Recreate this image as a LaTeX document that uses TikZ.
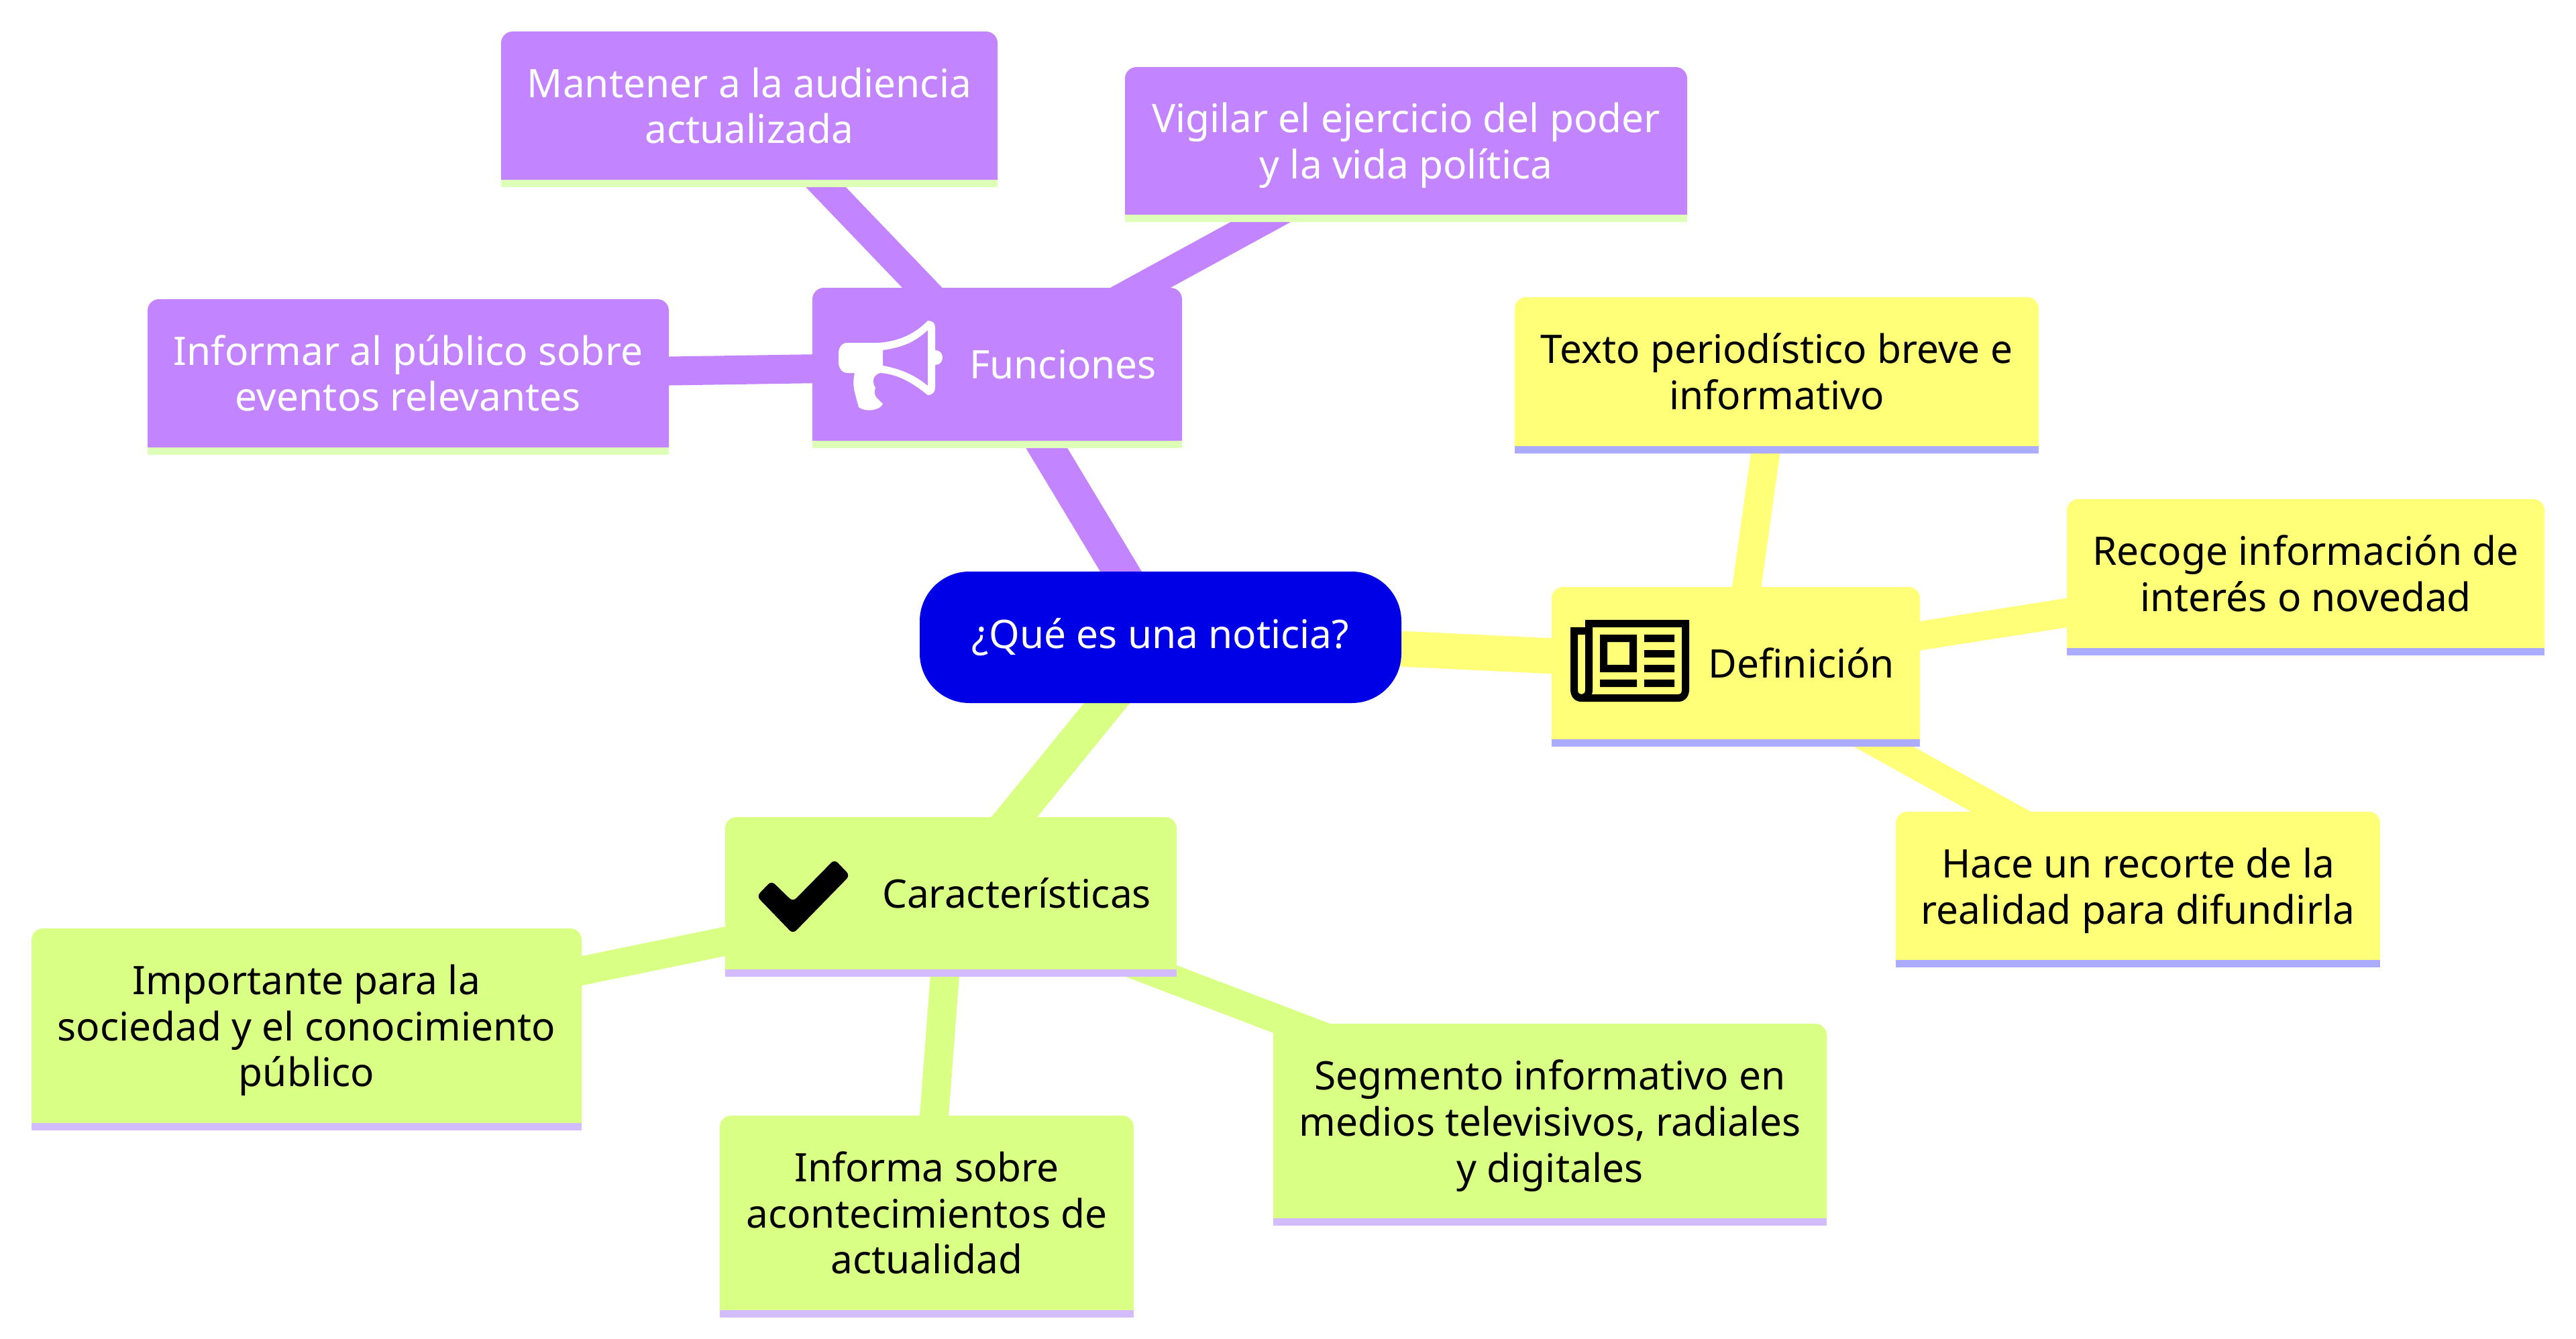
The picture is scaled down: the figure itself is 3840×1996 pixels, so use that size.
\documentclass[tikz,border=0pt]{standalone}
\usepackage{fontspec}
\setmainfont{Noto Sans}
\usetikzlibrary{calc}
\definecolor{pur}{HTML}{C285FF}
\definecolor{yel}{HTML}{FFFF78}
\definecolor{grn}{HTML}{D9FF85}
\definecolor{blu}{HTML}{0000E6}
\definecolor{spur}{HTML}{DEFFB8}
\definecolor{syel}{HTML}{ABABFF}
\definecolor{sgrn}{HTML}{D2BBFF}
\pgfdeclarelayer{conn}\pgfdeclarelayer{box}
\pgfsetlayers{conn,box,main}
\tikzset{
  lbl/.style={inner sep=0pt,outer sep=0pt,align=center,font=\fontsize{29.3pt}{34.3pt}\selectfont},
  lvlone/.style={line width=26.5pt},
  lvltwo/.style={line width=21.5pt},
}
% name, x0,y0,x1,y1 (top part without strip), fill, strip, text colour, text
\newcommand\mmbox[9]{%
  \pgfmathsetmacro\bw{(#4-#2)/2}\pgfmathsetmacro\bh{(#5-#3)/2}%
  \node[lbl,text=#8,minimum width=\bw pt,minimum height=\bh pt] (#1) at ({(#2+#4)/2},{(#3+#5)/2}) {#9};
  \begin{pgfonlayer}{box}
    \fill[#6] (#1.south west) [rounded corners=8.5pt] -- (#1.north west) -- (#1.north east) [sharp corners] -- (#1.south east) -- cycle;
    \fill[#7] (#1.south west) rectangle ([yshift=-5.5pt]#1.south east);
  \end{pgfonlayer}
}
\newcommand\iconsp{\hspace*{98pt}}
\newcommand\nd[1]{\raisebox{0pt}[\height][0pt]{#1}}
\begin{document}
\begin{tikzpicture}[x=0.5pt,y=-0.5pt]
\useasboundingbox (0,0) rectangle (3840,1996);
\node[lbl,text=white,fill=blu,rounded corners=37pt,minimum width=359pt,minimum height=98pt] (root) at (1730,950) {¿Qué es una noticia?};
% Funciones
\mmbox{fun}{1211}{429}{1762}{657}{pur}{spur}{white}{\iconsp Funciones}
\mmbox{fa}{747}{47}{1487}{268}{pur}{spur}{white}{Mantener a la audiencia\\actualizada}
\mmbox{fb}{1677}{100}{2515}{320}{pur}{spur}{white}{Vigilar el ejercicio del poder\\\nd{y la vida política}}
\mmbox{fc}{220}{446}{997}{667}{pur}{spur}{white}{Informar al público sobre\\eventos relevantes}
% Definicion
\mmbox{def}{2313}{875}{2862}{1102}{yel}{syel}{black}{\iconsp Definición}
\mmbox{da}{2258}{443}{3039}{665}{yel}{syel}{black}{Texto periodístico breve e\\informativo}
\mmbox{db}{3081}{744}{3793}{966}{yel}{syel}{black}{Recoge información de\\interés o novedad}
\mmbox{dc}{2826}{1210}{3548}{1431}{yel}{syel}{black}{Hace un recorte de la\\\nd{realidad para difundirla}}
% Caracteristicas
\mmbox{car}{1081}{1218}{1754}{1445}{grn}{sgrn}{black}{\iconsp Características}
\mmbox{ca}{47}{1384}{867}{1674}{grn}{sgrn}{black}{Importante para la\\sociedad y el conocimiento\\\nd{público}}
\mmbox{cb}{1073}{1663}{1690}{1953}{grn}{sgrn}{black}{Informa sobre\\acontecimientos de\\actualidad}
\mmbox{cc}{1898}{1526}{2723}{1816}{grn}{sgrn}{black}{Segmento informativo en\\medios televisivos, radiales\\\nd{y digitales}}
% connectors
\begin{pgfonlayer}{conn}
\draw[pur,lvlone] (root.center) -- ([yshift=-1.25pt]fun.center);
\draw[yel,lvlone] (root.center) -- ([yshift=-1.25pt]def.center);
\draw[grn,lvlone] (root.center) -- ([yshift=-1.25pt]car.center);
\draw[pur,lvltwo] ([yshift=-1.25pt]fun.center) -- ([yshift=-1.25pt]fa.center);
\draw[pur,lvltwo] ([yshift=-1.25pt]fun.center) -- ([yshift=-1.25pt]fb.center);
\draw[pur,lvltwo] ([yshift=-1.25pt]fun.center) -- ([yshift=-1.25pt]fc.center);
\draw[yel,lvltwo] ([yshift=-1.25pt]def.center) -- ([yshift=-1.25pt]da.center);
\draw[yel,lvltwo] ([yshift=-1.25pt]def.center) -- ([yshift=-1.25pt]db.center);
\draw[yel,lvltwo] ([yshift=-1.25pt]def.center) -- ([yshift=-1.25pt]dc.center);
\draw[grn,lvltwo] ([yshift=-1.25pt]car.center) -- ([yshift=-1.25pt]ca.center);
\draw[grn,lvltwo] ([yshift=-1.25pt]car.center) -- ([yshift=-1.25pt]cb.center);
\draw[grn,lvltwo] ([yshift=-1.25pt]car.center) -- ([yshift=-1.25pt]cc.center);
\end{pgfonlayer}
% megaphone icon
\fill[white,even odd rule]
  (1263,511) -- (1307,511) .. controls (1335,510) and (1362,500) .. (1383,478)
  .. controls (1390,478) and (1394,482) .. (1394,488) -- (1394,522)
  .. controls (1401,522) and (1405,527) .. (1405,533) .. controls (1405,539) and (1401,544) .. (1394,544)
  -- (1394,578) .. controls (1394,584) and (1390,589) .. (1383,589)
  .. controls (1362,572) and (1340,558) .. (1313,556)
  .. controls (1303,557) and (1298,568) .. (1305,578)
  .. controls (1301,590) and (1307,593) .. (1316,602)
  .. controls (1312,612) and (1290,615) .. (1280,607)
  .. controls (1273,580) and (1270,575) .. (1274,556)
  -- (1263,556) .. controls (1255,556) and (1250,548) .. (1250,540)
  -- (1250,527) .. controls (1250,518) and (1255,511) .. (1263,511) -- cycle
  (1316,522) .. controls (1342,518) and (1362,512) .. (1383,492) -- (1383,575)
  .. controls (1362,558) and (1342,550) .. (1316,545) -- cycle;
% newspaper icon
\fill[black,even odd rule]
  (2341,935) -- (2363,935) -- (2363,924) -- (2518,924) -- (2518,1028)
  .. controls (2518,1038) and (2512,1046) .. (2502,1046) -- (2357,1046)
  .. controls (2347,1046) and (2341,1038) .. (2341,1028) -- cycle
  (2352,946) -- (2363,946) -- (2363,1029) .. controls (2363,1037) and (2352,1037) .. (2352,1029) -- cycle
  (2374,935) -- (2507,935) -- (2507,1029) .. controls (2507,1033) and (2505,1035) .. (2501,1035) -- (2373,1035) .. controls (2374,1032) and (2374,1030) .. (2374,1027) -- cycle
  (2385,946) rectangle (2440,1002)
  (2396,957) rectangle (2429,991)
  (2451,946) rectangle (2496,957)
  (2451,969) rectangle (2496,980)
  (2451,991) rectangle (2496,1002)
  (2451,1013) rectangle (2496,1024)
  (2385,1013) rectangle (2440,1024);
% check icon
\fill[black,rounded corners=3.5pt]
  (1182,1392) -- (1128,1336) -- (1150,1313) -- (1182,1344) -- (1244,1281) -- (1267,1305) -- cycle;
\end{tikzpicture}
\end{document}
